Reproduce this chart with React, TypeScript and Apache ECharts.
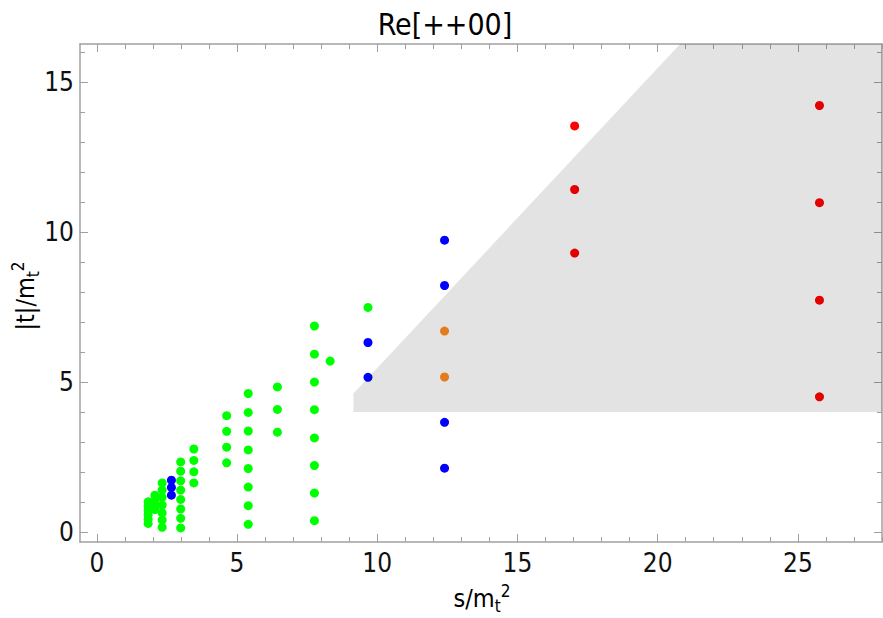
import React, { useEffect, useRef } from "react";
import * as echarts from "echarts";

// ---- data (s/m_t^2, |t|/m_t^2) ----
const greenS = [
  1.83, 1.83, 1.83, 1.83, 1.83, 1.83,
  2.07, 2.07, 2.07, 2.07,
  2.33, 2.33, 2.33, 2.33, 2.33, 2.33, 2.33,
  2.99, 2.99, 2.99, 2.99, 2.99, 2.99, 2.99, 2.99,
  3.46, 3.46, 3.46, 3.46,
  4.63, 4.63, 4.63, 4.63,
  5.4, 5.4, 5.4, 5.4, 5.4, 5.4, 5.4, 5.4,
  6.44, 6.44, 6.44,
  7.76, 7.76, 7.76, 7.76, 7.76, 7.76, 7.76, 7.76,
  8.32,
  9.67,
];
const greenT = [
  1.01, 0.87, 0.72, 0.58, 0.43, 0.29,
  1.23, 1.07, 0.91, 0.75,
  1.64, 1.4, 1.16, 0.9, 0.64, 0.4, 0.16,
  2.34, 2.03, 1.71, 1.4, 1.09, 0.77, 0.46, 0.14,
  2.77, 2.39, 2.01, 1.64,
  3.88, 3.36, 2.83, 2.31,
  4.62, 3.99, 3.37, 2.74, 2.12, 1.5, 0.88, 0.26,
  4.84, 4.09, 3.33,
  6.87, 5.93, 5.0, 4.08, 3.14, 2.22, 1.3, 0.38,
  5.7,
  7.49,
];
const blueS = [2.66, 2.66, 2.66, 9.67, 9.67, 12.4, 12.4, 12.4, 12.4];
const blueT = [1.73, 1.49, 1.23, 6.32, 5.16, 9.73, 8.22, 3.66, 2.13];
const orangeS = [12.4, 12.4];
const orangeT = [6.7, 5.17];
const redS = [17.04, 17.04, 17.04, 25.77, 25.77, 25.77, 25.77];
const redT = [13.54, 11.42, 9.3, 14.22, 10.98, 7.73, 4.51];

// shaded region outline
const regionS = [9.15, 9.15, 20.8, 28, 28];
const regionT = [4.0, 4.62, 16.27, 16.27, 4.0];

// axes
const xMin = -0.6;
const xMax = 28;
const yMin = -0.33;
const yMax = 16.27;
const xMajor = [0, 5, 10, 15, 20, 25];
const yMajor = [0, 5, 10, 15];
const xMinor = Array.from({ length: 28 }, (_, i) => i + 1).filter((v) => v % 5 !== 0);
const yMinor = Array.from({ length: 16 }, (_, i) => i + 1).filter((v) => v % 5 !== 0);

const title = "Re[++00]";

const FONT = "'DejaVu Sans Condensed', 'DejaVu Sans', sans-serif";
const FRAME = "#a0a0a0";

const zip = (a: number[], b: number[]) => a.map((v, i) => [v, b[i]]);

function makeX(position: "top" | "bottom", major: boolean, labels: boolean, line: boolean) {
  return {
    type: "value",
    min: xMin,
    max: xMax,
    position,
    axisLine: { show: line, onZero: false, lineStyle: { color: FRAME, width: 1.5 } },
    axisTick: {
      show: true,
      inside: true,
      length: major ? 8 : 5,
      customValues: major ? xMajor : xMinor,
      lineStyle: { color: FRAME, width: 1 },
    },
    axisLabel: {
      show: labels,
      customValues: major ? xMajor : xMinor,
      fontSize: 26,
      color: "#111",
      margin: 8,
      fontFamily: FONT,
    },
    splitLine: { show: false },
  };
}
function makeY(position: "left" | "right", major: boolean, labels: boolean, line: boolean) {
  return {
    type: "value",
    min: yMin,
    max: yMax,
    position,
    axisLine: { show: line, onZero: false, lineStyle: { color: FRAME, width: 1.5 } },
    axisTick: {
      show: true,
      inside: true,
      length: major ? 8 : 5,
      customValues: major ? yMajor : yMinor,
      lineStyle: { color: FRAME, width: 1 },
    },
    axisLabel: {
      show: labels,
      customValues: major ? yMajor : yMinor,
      fontSize: 26,
      color: "#111",
      margin: 6,
      fontFamily: FONT,
    },
    splitLine: { show: false },
  };
}

export default function App() {
  const ref = useRef<HTMLDivElement>(null);
  useEffect(() => {
    if (!ref.current) return;
    const chart = echarts.init(ref.current, null, { renderer: "svg" });
    const scatter = (name: string, s: number[], t: number[], color: string) => ({
      name,
      type: "scatter",
      xAxisIndex: 0,
      yAxisIndex: 0,
      symbol: "circle",
      symbolSize: 9,
      itemStyle: { color, opacity: 1 },
      data: zip(s, t),
      z: 2,
    });
    const richSub = {
      a: { fontSize: 25, fontFamily: FONT, fill: "#000", lineHeight: 32, verticalAlign: "middle" },
      b: { fontSize: 17, fontFamily: FONT, fill: "#000", lineHeight: 32, verticalAlign: "bottom" },
      c: { fontSize: 17, fontFamily: FONT, fill: "#000", lineHeight: 32, verticalAlign: "top" },
    };
    chart.setOption({
      animation: false,
      backgroundColor: "#fff",
      textStyle: { fontFamily: FONT },
      grid: { left: 80, right: 1, top: 44, bottom: 76, containLabel: false },
      xAxis: [
        makeX("bottom", true, true, true),
        makeX("bottom", false, false, false),
        makeX("top", true, false, true),
        makeX("top", false, false, false),
      ],
      yAxis: [
        makeY("left", true, true, true),
        makeY("left", false, false, false),
        makeY("right", true, false, true),
        makeY("right", false, false, false),
      ],
      series: [
        scatter("green", greenS, greenT, "#00ff00"),
        scatter("blue", blueS, blueT, "#0000ff"),
        scatter("orange", orangeS, orangeT, "#ff8c21"),
        scatter("red", redS, redT, "#ff0000"),
        {
          type: "custom",
          xAxisIndex: 0,
          yAxisIndex: 0,
          z: 5,
          silent: true,
          data: [[regionS[0], regionT[0]]],
          renderItem: (_params: any, api: any) => {
            const pts = regionS.map((s, i) => api.coord([s, regionT[i]]));
            return {
              type: "polygon",
              shape: { points: pts },
              style: { fill: "rgba(0,0,0,0.11)" },
            };
          },
        },
      ],
      graphic: [
        {
          type: "text",
          x: 445,
          y: 24,
          style: {
            text: title,
            fontSize: 30,
            fill: "#000",
            fontFamily: FONT,
            align: "center",
            verticalAlign: "middle",
            letterSpacing: -1,
          },
        },
        {
          type: "text",
          x: 482,
          y: 598,
          style: {
            text: "{a|s/m}{b|t}{c|2}",
            align: "center",
            verticalAlign: "middle",
            fill: "#000",
            rich: richSub,
          },
        },
        {
          type: "text",
          x: 25,
          y: 296,
          rotation: Math.PI / 2,
          style: {
            text: "{a|\u007Ct\u007C/m}{b|t}{c|2}",
            align: "center",
            verticalAlign: "middle",
            fill: "#000",
            rich: richSub,
          },
        },
      ],
    });
    return () => chart.dispose();
  }, []);
  return (
    <div
      ref={ref}
      style={{ position: "absolute", left: 0, top: 0, width: 883, height: 618 }}
    />
  );
}
